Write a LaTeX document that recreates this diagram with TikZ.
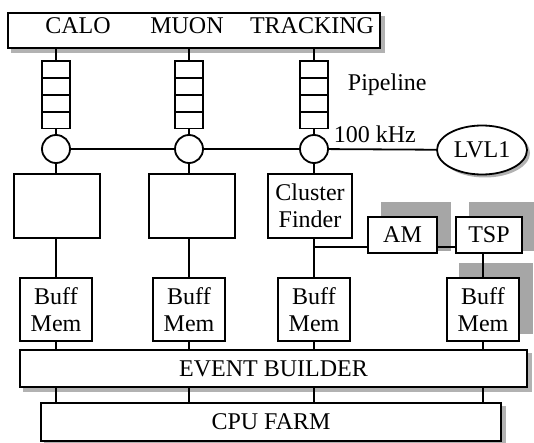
\documentclass[tikz,border=0pt]{standalone}
\usepackage{fontspec}
\setmainfont{Liberation Serif}
\usetikzlibrary{positioning,calc,shapes.geometric,shapes.multipart,backgrounds}

\begin{document}
\begin{tikzpicture}[x=1pt, y=-1pt, line width=1.8pt,
          font=\fontsize{24}{27}\selectfont,
          box/.style={draw, fill=white, inner sep=0pt, align=center},
          pipe/.style={draw, fill=white, rectangle split, rectangle split parts=4,
                       rectangle split empty part height=15pt,
                       rectangle split empty part depth=0pt,
                       minimum width=28pt, inner sep=0pt},
          sw/.style={draw, circle, fill=white, minimum size=28pt, inner sep=0pt},
          lbl/.style={inner sep=0pt, anchor=base},
          shade/.style={fill=gray!60},
          halftone/.style={fill=gray!70}]
        \useasboundingbox (0,0) rectangle (534,443);
        % detectors
        \node[box, minimum width=372pt, minimum height=35pt] (sys) at (194,30.5) {};
        \node[lbl] (calo) at (78,34)  {CALO};
        \node[lbl] (muon) at (187,34) {MUON};
        \node[lbl] (trk)  at (312,34) {TRACKING};
        % pipelines and level 1 switches
        \node[pipe] (pipe1) at (56,95)  {};
        \node[pipe] (pipe2) at (189,95) {};
        \node[pipe] (pipe3) at (314,95) {};
        \node[lbl, anchor=base west] (pipelbl) at (347,91) {Pipeline};
        \node[sw] (sw1) at (56,149)  {};
        \node[sw] (sw2) at (189,149) {};
        \node[sw] (sw3) at (314,149) {};
        \node[draw, ellipse, fill=white, minimum width=90pt, minimum height=49pt,
              inner sep=0pt] (lvl1) at (482,150) {LVL1};
        \node[lbl, anchor=base west] (rate) at (333,143) {100 kHz};
        % processors
        \node[box, minimum width=86pt, minimum height=64pt] (proc1) at (57,206)  {};
        \node[box, minimum width=86pt, minimum height=64pt] (proc2) at (192,206) {};
        \node[box, minimum width=84pt, minimum height=64pt] (cf)    at (310,206) {Cluster\\Finder};
        \node[box, minimum width=69pt, minimum height=36pt] (am)  at (402.5,235) {AM};
        \node[box, minimum width=66pt, minimum height=36pt] (tsp) at (489,235)   {TSP};
        % buffers
        \node[box, minimum width=72pt, minimum height=63pt] (bm1) at (56,309.5)  {Buff\\Mem};
        \node[box, minimum width=72pt, minimum height=63pt] (bm2) at (189,309.5) {Buff\\Mem};
        \node[box, minimum width=72pt, minimum height=63pt] (bm3) at (314,309.5) {Buff\\Mem};
        \node[box, minimum width=72pt, minimum height=63pt] (bm4) at (483,309.5) {Buff\\Mem};
        \node[box, minimum width=507pt, minimum height=37pt] (eb)  at (273.5,368.5) {EVENT BUILDER};
        \node[box, minimum width=460pt, minimum height=38pt] (cpu) at (271,422)     {CPU FARM};
        % shadows
        \begin{scope}[on background layer]
          \fill[shade] ($(sys.north west)+(4,4)$) rectangle ($(sys.south east)+(4,4)$);
          \fill[shade] ($(eb.north west)+(4,4)$) rectangle ($(eb.south east)+(4,4)$);
          \fill[shade] ($(cpu.north west)+(4,4)$) rectangle ($(cpu.south east)+(4,4)$);
          \fill[shade] ($(lvl1.center)+(3,3)$) ellipse [x radius=45pt, y radius=24.5pt];
          \fill[halftone] ($(am.north west)+(14,-14)$) rectangle ($(am.south east)+(13,-3)$);
          \fill[halftone] ($(tsp.north west)+(14,-14)$) rectangle ($(tsp.south east)+(13,-3)$);
          \fill[halftone] ($(bm4.north west)+(13,-14)$) rectangle ($(bm4.south east)+(13,-8)$);
        \end{scope}
        % connections
        \foreach \i in {1,2,3} {
          \draw (pipe\i.north |- sys.south) -- (pipe\i.north);
          \draw (pipe\i) -- (sw\i);
        }
        \draw (sw1) -- (sw2) -- (sw3) -- (lvl1);
        \draw (sw1) -- (sw1 |- proc1.north);
        \draw (sw2) -- (sw2 |- proc2.north);
        \draw (sw3) -- (sw3 |- cf.north);
        \draw (bm1 |- proc1.south) -- (bm1);
        \draw (bm2 |- proc2.south) -- (bm2);
        \draw (bm3 |- cf.south) -- (bm3);
        \coordinate (br) at (314,247);
        \draw (br) -- (am.west |- br);
        \draw (am.east |- br) -- (tsp.west |- br);
        \draw (bm4 |- tsp.south) -- (bm4);
        \foreach \i in {1,...,4} {
          \draw (bm\i.south) -- (bm\i.south |- eb.north);
          \draw (bm\i.south |- eb.south) -- (bm\i.south |- cpu.north);
        }
      \end{tikzpicture}
\end{document}
